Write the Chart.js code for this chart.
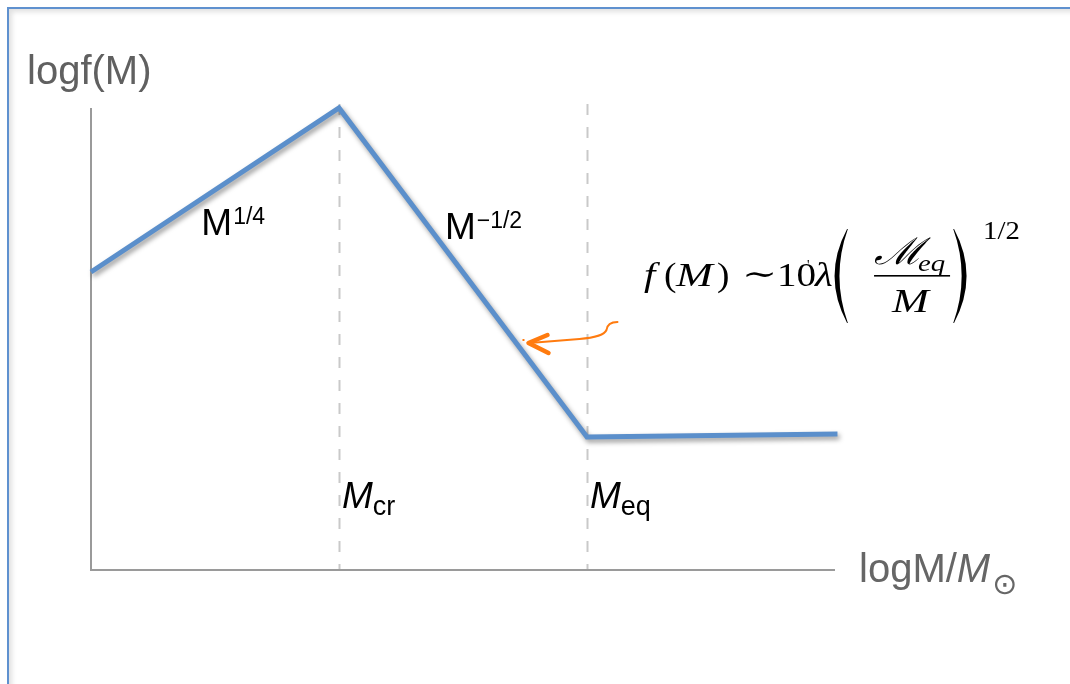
<!DOCTYPE html>
<html>

<head>
    <title>logf(M)</title>
    <script src="https://cdn.jsdelivr.net/npm/chart.js"></script>
    <style>
        body { margin: 0; background: #fff; }
        #wrap { position: relative; width: 1070px; height: 684px; overflow: hidden; }
        #frame {
            position: absolute; left: 7px; top: 7px; width: 1100px; height: 700px;
            border-left: 2px solid #5f91cf; border-top: 2px solid #5f91cf;
            box-shadow: inset 3px 3px 5px rgba(0, 0, 0, 0.12);
        }
        canvas { position: absolute; left: 0; top: 0; }
    </style>
</head>

<body>

    <div id="wrap">
        <div id="frame"></div>
        <canvas id="myChart" width="1070" height="684"></canvas>
    </div>

    <script>
        // broken power law: x = log M, y = log f(M)
        const logMass = [0, 1, 2, 3.01];
        const logF = [2.98, 4.62, 1.33, 1.36];

        // characteristic masses (dashed markers) and their subscripts
        const breakMass = [1, 2];
        const breakNames = ['cr', 'eq'];

        // slopes written on the two segments
        const slopeBase = ['M', 'M'];
        const slopePower = ['1/4', '\u22121/2'];

        const X_MAX = 3;
        const Y_MAX = 4.62;

        const sansFont = '"Liberation Sans", Arial, sans-serif';
        const serifFont = '"Liberation Serif", "DejaVu Serif", serif';

        // draws a run of text pieces one after another
        function drawRun(ctx, parts, x, y) {
            parts.forEach(p => {
                ctx.font = p.font;
                ctx.fillStyle = p.color || '#000';
                ctx.fillText(p.t, x, y + (p.dy || 0));
                x += ctx.measureText(p.t).width + (p.gap || 0);
            });
            return x;
        }

        // single glyph, optionally stretched sideways (TeX glyphs are wider)
        function glyph(ctx, t, font, x, y, sx) {
            ctx.save();
            ctx.font = font;
            ctx.fillStyle = '#000';
            ctx.translate(x, y);
            ctx.scale(sx || 1, 1);
            ctx.fillText(t, 0, 0);
            ctx.restore();
        }

        // big bracket drawn as a filled crescent
        function bracket(ctx, x, top, bottom, dir) {
            const mid = (top + bottom) / 2;
            ctx.beginPath();
            ctx.moveTo(x, top);
            ctx.quadraticCurveTo(x - dir * 25, mid, x, bottom);
            ctx.lineTo(x + dir * 0.8, bottom);
            ctx.quadraticCurveTo(x - dir * 16, mid, x + dir * 0.8, top);
            ctx.closePath();
            ctx.fillStyle = '#000';
            ctx.fill();
        }

        const sketchPlugin = {
            id: 'sketch',
            beforeDatasetsDraw(chart) {
                const ctx = chart.ctx;
                const xs = chart.scales.x, ys = chart.scales.y;
                const x0 = xs.getPixelForValue(0), y0 = ys.getPixelForValue(0);
                const yTop = ys.getPixelForValue(Y_MAX);
                ctx.save();

                // dashed markers at M_cr and M_eq
                ctx.strokeStyle = '#c9c9c9';
                ctx.lineWidth = 2;
                ctx.setLineDash([11, 12]);
                breakMass.forEach(m => {
                    const px = Math.round(xs.getPixelForValue(m)) + 0.5;
                    ctx.beginPath();
                    ctx.moveTo(px, yTop - 4);
                    ctx.lineTo(px, y0);
                    ctx.stroke();
                });
                ctx.setLineDash([]);

                // axes
                ctx.strokeStyle = '#9a9a9a';
                ctx.lineWidth = 2;
                ctx.beginPath();
                ctx.moveTo(x0, yTop);
                ctx.lineTo(x0, y0);
                ctx.lineTo(xs.getPixelForValue(X_MAX), y0);
                ctx.stroke();

                // soft shadow under the curve
                ctx.restore();
                ctx.save();
                ctx.shadowColor = 'rgba(0,0,0,0.4)';
                ctx.shadowBlur = 5;
                ctx.shadowOffsetX = 2;
                ctx.shadowOffsetY = 3;
            },
            afterDatasetsDraw(chart) {
                chart.ctx.restore();
            },
            afterDraw(chart) {
                const ctx = chart.ctx;
                const xs = chart.scales.x, ys = chart.scales.y;
                const X = v => xs.getPixelForValue(v);
                const Y = v => ys.getPixelForValue(v);
                ctx.save();
                ctx.textBaseline = 'alphabetic';

                // axis titles
                drawRun(ctx, [{ t: 'logf(M)', font: '40px ' + sansFont, color: '#606060' }], 27, 84);
                drawRun(ctx, [
                    { t: 'logM/', font: '40px ' + sansFont, color: '#666' },
                    { t: 'M', font: 'italic 40px ' + sansFont, color: '#666', gap: 2 },
                    { t: '\u2299', font: '30px "DejaVu Sans", sans-serif', color: '#666', dy: 12 }
                ], 859, 582);

                // slope labels
                const slopeAt = [[0.445, 3.35], [1.427, 3.31]];
                slopeAt.forEach((p, i) => {
                    drawRun(ctx, [
                        { t: slopeBase[i], font: '37px ' + sansFont, gap: 1 },
                        { t: slopePower[i], font: '23px ' + sansFont, dy: -11 }
                    ], X(p[0]), Y(p[1]));
                });

                // names of the characteristic masses
                breakMass.forEach((m, i) => {
                    drawRun(ctx, [
                        { t: 'M', font: 'italic 37px ' + sansFont, gap: 0 },
                        { t: breakNames[i], font: '27px ' + sansFont, dy: 7 }
                    ], X(m) + 3, Y(0.62));
                });

                // formula for the middle segment
                const fx = X(2.222), fy = Y(2.84);
                const it = 'italic 34px ' + serifFont, up = '34px ' + serifFont;
                glyph(ctx, 'f', it, fx + 2, fy, 1.2);
                glyph(ctx, '(', up, fx + 22, fy, 1.1);
                glyph(ctx, 'M', it, fx + 34, fy, 1.3);
                glyph(ctx, ')', up, fx + 75, fy, 1.1);
                glyph(ctx, '\u223c', '30px ' + serifFont, fx + 100, fy - 2, 1.4);
                glyph(ctx, '10', up, fx + 135, fy, 1.15);
                glyph(ctx, '\'', '14px ' + serifFont, fx + 165, fy - 16, 1);
                glyph(ctx, '\u03bb', it, fx + 173, fy, 1.2);
                bracket(ctx, fx + 205, fy - 57, fy + 37, 1);
                glyph(ctx, '\u2133', 'italic 37px ' + serifFont, fx + 232, fy - 22, 1.15);
                glyph(ctx, 'eq', 'italic 24px ' + serifFont, fx + 276, fy - 15, 1.2);
                ctx.fillRect(fx + 232, fy - 11, 76, 1.6);
                glyph(ctx, 'M', it, fx + 250, fy + 26, 1.3);
                bracket(ctx, fx + 312, fy - 57, fy + 37, -1);
                glyph(ctx, '1/2', '25px ' + serifFont, fx + 341, fy - 47, 1.15);

                // orange pointer onto the steep segment
                const ax = X(1.76), ay = Y(2.27);
                ctx.strokeStyle = '#ff7b0f';
                ctx.lineCap = 'round';
                ctx.lineJoin = 'round';
                ctx.lineWidth = 2;
                ctx.beginPath();
                ctx.moveTo(ax + 90, ay - 21);
                ctx.quadraticCurveTo(ax + 80, ay - 21, ax + 79, ay - 13);
                ctx.quadraticCurveTo(ax + 76, ay - 6, ax + 52, ay - 4);
                ctx.lineTo(ax + 2, ay);
                ctx.stroke();
                ctx.lineWidth = 4.5;
                ctx.beginPath();
                ctx.moveTo(ax + 20, ay - 8);
                ctx.lineTo(ax + 1, ay);
                ctx.lineTo(ax + 21, ay + 10);
                ctx.stroke();
                ctx.fillStyle = '#ff7b0f';
                ctx.fillRect(ax - 5, ay - 4, 2, 2);
                ctx.restore();
            }
        };

        const data = {
            labels: logMass,
            datasets: [{
                data: logMass.map((m, i) => ({ x: m, y: logF[i] })),
                borderColor: '#5b8fcb',
                borderWidth: 5,
                borderJoinStyle: 'miter',
                pointRadius: 0,
                tension: 0,
                clip: false
            }]
        };

        const config = {
            type: 'line',
            data: data,
            options: {
                responsive: false,
                animation: false,
                layout: { padding: { left: 91, top: 108, right: 235, bottom: 114 } },
                scales: {
                    x: { type: 'linear', min: 0, max: X_MAX, display: false },
                    y: { type: 'linear', min: 0, max: Y_MAX, display: false }
                },
                plugins: {
                    legend: { display: false },
                    tooltip: { enabled: false }
                }
            },
            plugins: [sketchPlugin]
        };
    </script>

    <script>
        const myChart = new Chart(
            document.getElementById('myChart'),
            config
        );
    </script>

</body>

</html>
